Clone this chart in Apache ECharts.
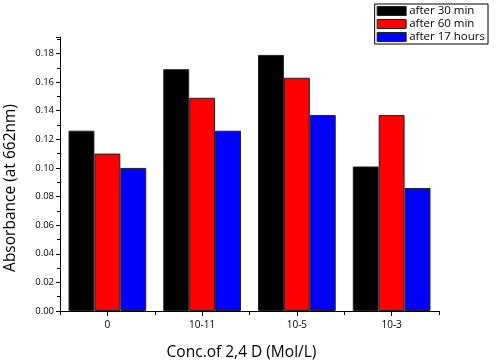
<!DOCTYPE html>
<html><head><meta charset="utf-8">
<script src="https://cdn.jsdelivr.net/npm/echarts@6/dist/echarts.min.js"></script>
<style>html,body{margin:0;padding:0;background:#fff}#c{width:500px;height:363px}</style>
</head><body><div id="c"></div>
<script>
var categories = ['0', '10-11', '10-5', '10-3'];
var seriesNames = ['after 30 min', 'after 60 min', 'after 17 hours'];
var after30 = [0.126, 0.169, 0.179, 0.101];
var after60 = [0.110, 0.149, 0.163, 0.137];
var after17h = [0.100, 0.126, 0.137, 0.086];
var colors = ['#000000', '#ff0000', '#0000ff'];
var yTicks = [0, 0.02, 0.04, 0.06, 0.08, 0.10, 0.12, 0.14, 0.16, 0.18];

var chart = echarts.init(document.getElementById('c'), null, {renderer: 'canvas'});
var font = 'Open Sans';
function bar(name, data, color) {
  return {
    name: name, type: 'bar', data: data, xAxisIndex: 0, yAxisIndex: 0,
    barGap: '0%', barCategoryGap: '18%',
    itemStyle: {color: color, borderColor: '#222', borderWidth: 1},
    emphasis: {disabled: true}
  };
}
chart.setOption({
  animation: false,
  color: colors,
  grid: {left: 60, right: 61, top: 37, bottom: 52, containLabel: false, outerBoundsMode: 'none'},
  legend: {
    orient: 'vertical', right: 12, top: 4,
    data: seriesNames,
    borderColor: '#000', borderWidth: 1, padding: [1, 3, 1, 2],
    itemWidth: 29, itemHeight: 9, itemGap: 1,
    icon: 'rect',
    itemStyle: {borderColor: '#222', borderWidth: 1},
    textStyle: {fontFamily: font, fontSize: 11.5, color: '#000', padding: [0, 0, 0, -2]},
    selectedMode: false
  },
  xAxis: [{
    type: 'category', data: categories,
    name: 'Conc.of 2,4 D (Mol/L)', nameLocation: 'middle', nameGap: 34,
    nameTextStyle: {fontFamily: font, fontSize: 15.5, color: '#000', padding: [0, 16, 0, 0]},
    axisLine: {lineStyle: {color: '#000', width: 1}},
    axisTick: {show: true, alignWithLabel: true, length: 5, lineStyle: {color: '#000'}},
    axisLabel: {fontFamily: font, fontSize: 10, color: '#000', margin: 9},
    splitLine: {show: false}
  }, {
    type: 'category', data: categories, position: 'bottom',
    axisLine: {show: false},
    axisTick: {show: true, length: 4, lineStyle: {color: '#000'}},
    axisLabel: {show: false},
    splitLine: {show: false}
  }],
  yAxis: {
    type: 'value', min: 0, max: 0.1915, interval: 0.02,
    name: 'Absorbance (at 662nm)', nameLocation: 'middle', nameGap: 41,
    nameTextStyle: {fontFamily: font, fontSize: 15.5, color: '#000', padding: [0, 28, 0, 0]},
    axisLine: {show: true, lineStyle: {color: '#000', width: 1}},
    axisTick: {show: true, length: 4, lineStyle: {color: '#000'}},
    minorTick: {show: true, splitNumber: 2, length: 3, lineStyle: {color: '#000'}},
    axisLabel: {fontFamily: font, fontSize: 9.5, color: '#000', margin: 6,
      formatter: function (v) { return yTicks.some(function(t){return Math.abs(t - v) < 1e-9;}) ? v.toFixed(2) : ''; }},
    splitLine: {show: false}
  },
  series: [bar(seriesNames[0], after30, colors[0]), bar(seriesNames[1], after60, colors[1]), bar(seriesNames[2], after17h, colors[2])]
});
</script></body></html>
